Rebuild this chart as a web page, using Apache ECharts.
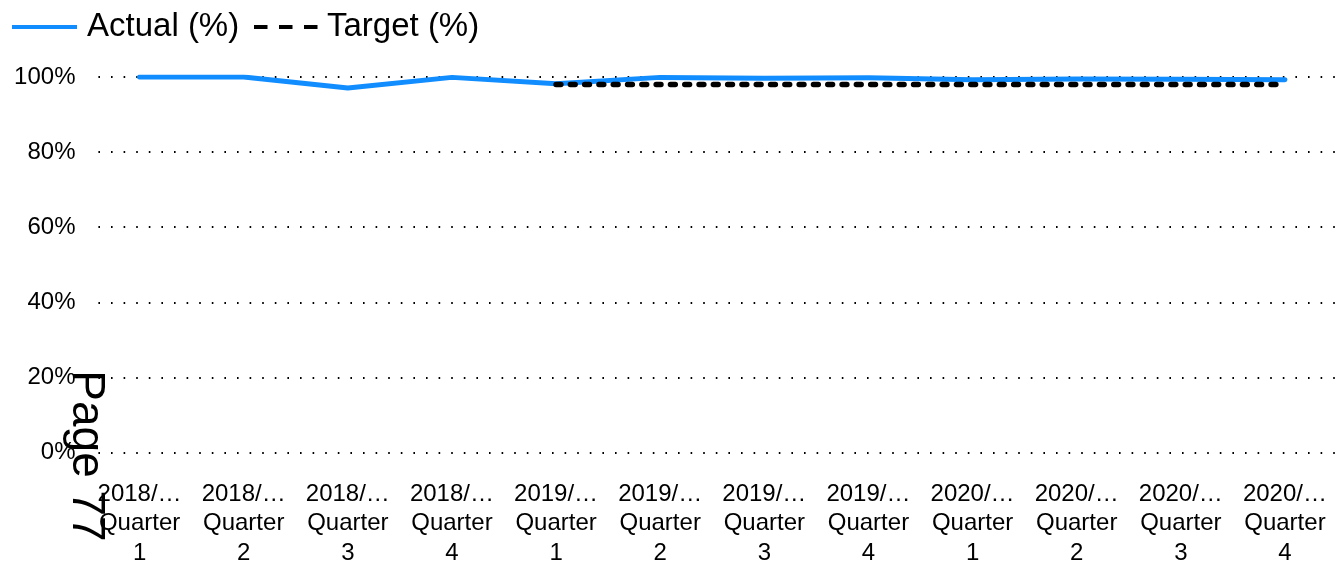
<!DOCTYPE html>
<html>
<head>
<meta charset="utf-8">
<script src="https://cdn.jsdelivr.net/npm/echarts@6/dist/echarts.min.js"></script>
<style>html,body{margin:0;padding:0;background:#fff;}#c{width:1337px;height:568px;}</style>
</head>
<body>
<div id="c"></div>
<script>
const categories = ["2018/…\nQuarter\n1","2018/…\nQuarter\n2","2018/…\nQuarter\n3","2018/…\nQuarter\n4","2019/…\nQuarter\n1","2019/…\nQuarter\n2","2019/…\nQuarter\n3","2019/…\nQuarter\n4","2020/…\nQuarter\n1","2020/…\nQuarter\n2","2020/…\nQuarter\n3","2020/…\nQuarter\n4"];
const actual = [100, 100, 97.1, 99.9, 98.2, 99.9, 99.7, 99.8, 99.3, 99.5, 99.4, 99.3];
const target = [null, null, null, null, 98, 98, 98, 98, 98, 98, 98, 98];
const yTicks = [0, 20, 40, 60, 80, 100];
const legendNames = ["Actual (%)", "Target (%)"];
const pageText = "Page 77";

const FONT = "'Liberation Sans', Arial, sans-serif";
const chart = echarts.init(document.getElementById('c'), null, {renderer: 'canvas'});
chart.setOption({
  animation: false,
  backgroundColor: '#ffffff',
  grid: {left: 87.5, top: 77, width: 1260, bottom: 111, containLabel: false},
  xAxis: {
    type: 'category',
    data: categories,
    boundaryGap: true,
    axisLine: {show: false},
    axisTick: {show: false},
    axisLabel: {color: '#000', fontFamily: FONT, fontSize: 24, lineHeight: 29.5, margin: 27, interval: 0}
  },
  yAxis: {
    type: 'value',
    min: yTicks[0], max: yTicks[yTicks.length - 1], interval: 20,
    axisLine: {show: false},
    axisTick: {show: false},
    axisLabel: {color: '#000', fontFamily: FONT, fontSize: 24, margin: 12, formatter: v => v + '%'},
    splitLine: {show: true, lineStyle: {color: '#000', width: 1.8, type: [1.6, 11], dashOffset: 1.7}}
  },
  series: [
    {name: legendNames[0], type: 'line', data: actual, symbol: 'none', z: 3,
     lineStyle: {color: '#118DFF', width: 5, cap: 'round', join: 'round'}},
    {name: legendNames[1], type: 'line', data: target, symbol: 'none', z: 4,
     lineStyle: {color: '#000', width: 5.5, type: [4.8, 9.5], cap: 'round'}}
  ],
  graphic: [
    {type: 'line', shape: {x1: 12, y1: 27, x2: 77, y2: 27}, style: {stroke: '#118DFF', lineWidth: 4}},
    {type: 'text', x: 87, y: 27, style: {text: legendNames[0], fill: '#000', font: '33px ' + FONT, textVerticalAlign: 'middle'}},
    {type: 'line', shape: {x1: 254, y1: 27, x2: 318, y2: 27}, style: {stroke: '#000', lineWidth: 4, lineDash: [13.5, 11.5]}},
    {type: 'text', x: 327, y: 27, style: {text: legendNames[1], fill: '#000', font: '33px ' + FONT, textVerticalAlign: 'middle'}},
    {type: 'text', x: 86, y: 456, rotation: -Math.PI / 2,
     style: {text: pageText, fill: '#000', font: '46px ' + FONT, textAlign: 'center', textVerticalAlign: 'middle'}, z: 100}
  ]
});
</script>
</body>
</html>
